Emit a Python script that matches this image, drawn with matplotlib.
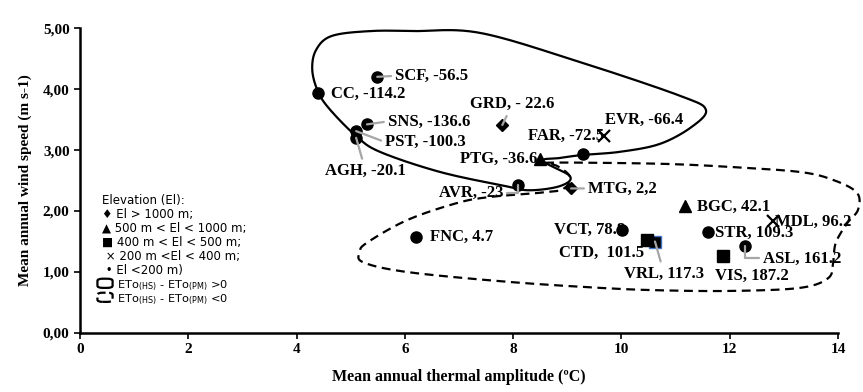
import numpy as np
import matplotlib
matplotlib.use("Agg")
from matplotlib import pyplot as plt
from matplotlib.patches import FancyBboxPatch

# station data: thermal amplitude (x), wind speed (y), elevation class
names = ['SCF', 'CC', 'SNS', 'PST', 'AGH', 'GRD', 'EVR', 'FAR', 'PTG', 'AVR',
         'MTG', 'BGC', 'MDL', 'STR', 'ASL', 'VIS', 'VCT', 'VRL', 'CTD', 'FNC']
amp = [5.49, 4.40, 5.30, 5.10, 5.10, 7.80, 9.68, 9.29, 8.50, 8.09,
       9.07, 11.17, 12.80, 11.60, 12.28, 11.88, 10.01, 10.62, 10.47, 6.20]
wind = [4.20, 3.94, 3.42, 3.31, 3.20, 3.41, 3.23, 2.94, 2.86, 2.43,
        2.37, 2.08, 1.84, 1.66, 1.42, 1.27, 1.69, 1.50, 1.52, 1.58]
elev = ['<200', '<200', '<200', '<200', '<200', '>1000', '200-400', '<200', '500-1000', '<200',
        '>1000', '500-1000', '200-400', '<200', '<200', '400-500', '<200', '400-500', '400-500', '<200']
labels = ['SCF, -56.5', 'CC, -114.2', 'SNS, -136.6', 'PST, -100.3', 'AGH, -20.1',
          'GRD, - 22.6', 'EVR, -66.4', 'FAR, -72.5', 'PTG, -36.6', 'AVR, -23',
          'MTG, 2,2', 'BGC, 42.1', 'MDL, 96.2', 'STR, 109.3', 'ASL, 161.2',
          'VIS, 187.2', 'VCT, 78.8', 'VRL, 117.3', 'CTD,  101.5', 'FNC, 4.7']

# hand-drawn envelopes (ETo_HS - ETo_PM > 0 : solid, < 0 : dashed)
pos_x = [4.40, 4.29, 4.36, 4.65, 5.36, 6.15, 7.39, 9.24, 11.08, 11.56, 11.30, 10.71,
         9.97, 9.29, 8.87, 8.55, 9.05, 8.87, 8.31, 7.85, 6.65, 5.54, 5.10, 4.62]
pos_y = [3.95, 4.31, 4.64, 4.87, 4.95, 4.95, 4.92, 4.44, 3.89, 3.66, 3.38, 3.10,
         2.97, 2.92, 2.87, 2.82, 2.57, 2.41, 2.34, 2.41, 2.64, 2.97, 3.23, 3.66]
neg_x = [8.59, 9.60, 10.90, 12.06, 13.30, 13.91, 14.35, 14.37, 14.17, 13.96, 13.91, 13.82,
         13.30, 12.06, 10.71, 9.60, 7.89, 6.04, 5.23, 5.17, 5.30, 6.04, 6.96, 7.57,
         8.50, 8.92, 9.05, 8.81]
neg_y = [2.79, 2.79, 2.77, 2.72, 2.64, 2.51, 2.30, 2.02, 1.80, 1.48, 1.16, 0.90,
         0.74, 0.69, 0.70, 0.74, 0.84, 1.00, 1.16, 1.33, 1.48, 1.85, 2.13, 2.23,
         2.30, 2.36, 2.56, 2.74]

marker_style = {'>1000': dict(marker='D', ms=6.5),
                '500-1000': dict(marker='^', ms=8.5),
                '400-500': dict(marker='s', ms=8),
                '200-400': dict(marker='x', ms=8, mew=1.6),
                '<200': dict(marker='o', ms=8)}

# label offsets in pixels (dx, dy, ha, leader, elbow)
lab_pos = {'SCF': (18, 1, 'left', True, False), 'CC': (13, -1, 'left', False, False),
           'SNS': (21, 3, 'left', True, False), 'PST': (29, -11, 'left', True, False),
           'AGH': (-31, -33, 'left', True, False), 'GRD': (-32, 21, 'left', True, False),
           'EVR': (1, 16, 'left', False, False), 'FAR': (-55, 18, 'left', False, False),
           'PTG': (-3, 0, 'right', False, False), 'AVR': (-15, -8, 'right', True, True),
           'MTG': (17, 0, 'left', True, False), 'BGC': (12, -1, 'left', False, False),
           'MDL': (2, -1, 'left', False, False), 'STR': (7, -1, 'left', False, False),
           'ASL': (18, -12, 'left', True, True), 'VIS': (-8, -20, 'left', False, False),
           'VCT': (3, 0, 'right', False, False), 'VRL': (-31, -32, 'left', True, False),
           'CTD': (-3, -13, 'right', False, False), 'FNC': (14, 0, 'left', False, False)}


def closed_spline(xs, ys, n=24):
    P = np.column_stack([xs, ys])
    N = len(P)
    t = np.linspace(0, 1, n, endpoint=False)[:, None]
    segs = []
    for i in range(N):
        p0, p1, p2, p3 = P[i - 1], P[i], P[(i + 1) % N], P[(i + 2) % N]
        segs.append(0.5 * (2 * p1 + (-p0 + p2) * t + (2 * p0 - 5 * p1 + 4 * p2 - p3) * t ** 2
                           + (-p0 + 3 * p1 - 3 * p2 + p3) * t ** 3))
    segs.append(P[:1])
    return np.vstack(segs)


serif = dict(family='Liberation Serif', weight='bold')

fig = plt.figure(figsize=(8.63, 3.92), dpi=100)
ax = fig.add_axes([0.0927, 0.1505, 0.8783, 0.778])

c = closed_spline(pos_x, pos_y)
ax.plot(c[:, 0], c[:, 1], color='black', lw=1.6, clip_on=False, zorder=2)
c = closed_spline(neg_x, neg_y)
ax.plot(c[:, 0], c[:, 1], color='black', lw=1.6, ls=(0, (4, 2.5)), clip_on=False, zorder=2)

for nm, x, y, el, lab in zip(names, amp, wind, elev, labels):
    st = dict(marker_style[el])
    ec = '#4472C4' if nm == 'VRL' else 'black'
    ax.plot([x], [y], ls='none', color='black', mec=ec, zorder=4 if nm != 'VRL' else 3,
            clip_on=False, **st)
    dx, dy, ha, leader, elbow = lab_pos[nm]
    ap = None
    if leader:
        cs = 'angle,angleA=0,angleB=90,rad=0' if elbow else 'arc3'
        ap = dict(arrowstyle='-', color='#A6A6A6', lw=1.6, shrinkA=1, shrinkB=0,
                  connectionstyle=cs)
    rp = (0, 0.5) if ha == 'left' and dx > 0 else ((1, 0.5) if ha == 'right' else (0.5, 0.5))
    if ap is not None:
        ap['relpos'] = rp
    ax.annotate(lab, (x, y), xytext=(dx, dy), textcoords='offset pixels', ha=ha, va='center',
                fontsize=12, arrowprops=ap, zorder=5, **serif)

ax.set_xlim(0, 14)
ax.set_ylim(0, 5)
ax.set_xticks(np.arange(0, 15, 2))
ax.set_yticks(np.arange(0, 6, 1))
ax.set_yticklabels(['{:.2f}'.format(v).replace('.', ',') for v in range(6)])
for lab in ax.get_xticklabels() + ax.get_yticklabels():
    lab.set_fontfamily('Liberation Serif')
    lab.set_fontweight('bold')
    lab.set_fontsize(11)
ax.tick_params(direction='out', length=4, width=1.2, color='black')
for s in ['top', 'right']:
    ax.spines[s].set_visible(False)
for s in ['left', 'bottom']:
    ax.spines[s].set_linewidth(1.8)

ax.set_xlabel('Mean annual thermal amplitude (ºC)', fontsize=11.5, labelpad=9, **serif)
ax.set_ylabel('Mean annual wind speed (m s-1)', fontsize=11, labelpad=8, **serif)

# legend drawn by hand
leg = ['Elevation (El):', '♦ El > 1000 m;', '▲ 500 m < El < 1000 m;', '■ 400 m < El < 500 m;',
       ' × 200 m <El < 400 m;', ' • El <200 m)']
for i, s in enumerate(leg):
    ax.text(0.029, 0.436 - i * 0.0459, s, transform=ax.transAxes, fontsize=8.5,
            family='DejaVu Sans', va='center')
for i, (s, ls) in enumerate([(r'$\mathregular{ETo_{(HS)}}$ - $\mathregular{ETo_{(PM)}}$ >0', '-'),
                             (r'$\mathregular{ETo_{(HS)}}$ - $\mathregular{ETo_{(PM)}}$ <0', '--')]):
    yy = 0.163 - i * 0.0459
    box = FancyBboxPatch((0.023, yy - 0.015), 0.02, 0.03, boxstyle='round,pad=0,rounding_size=0.007',
                         transform=ax.transAxes, fill=False, lw=1.6, ls=ls, ec='black')
    ax.add_patch(box)
    ax.text(0.049, yy, s, transform=ax.transAxes, fontsize=8.2, family='DejaVu Sans',
            va='center_baseline')

fig.savefig('out.png', dpi=100)
